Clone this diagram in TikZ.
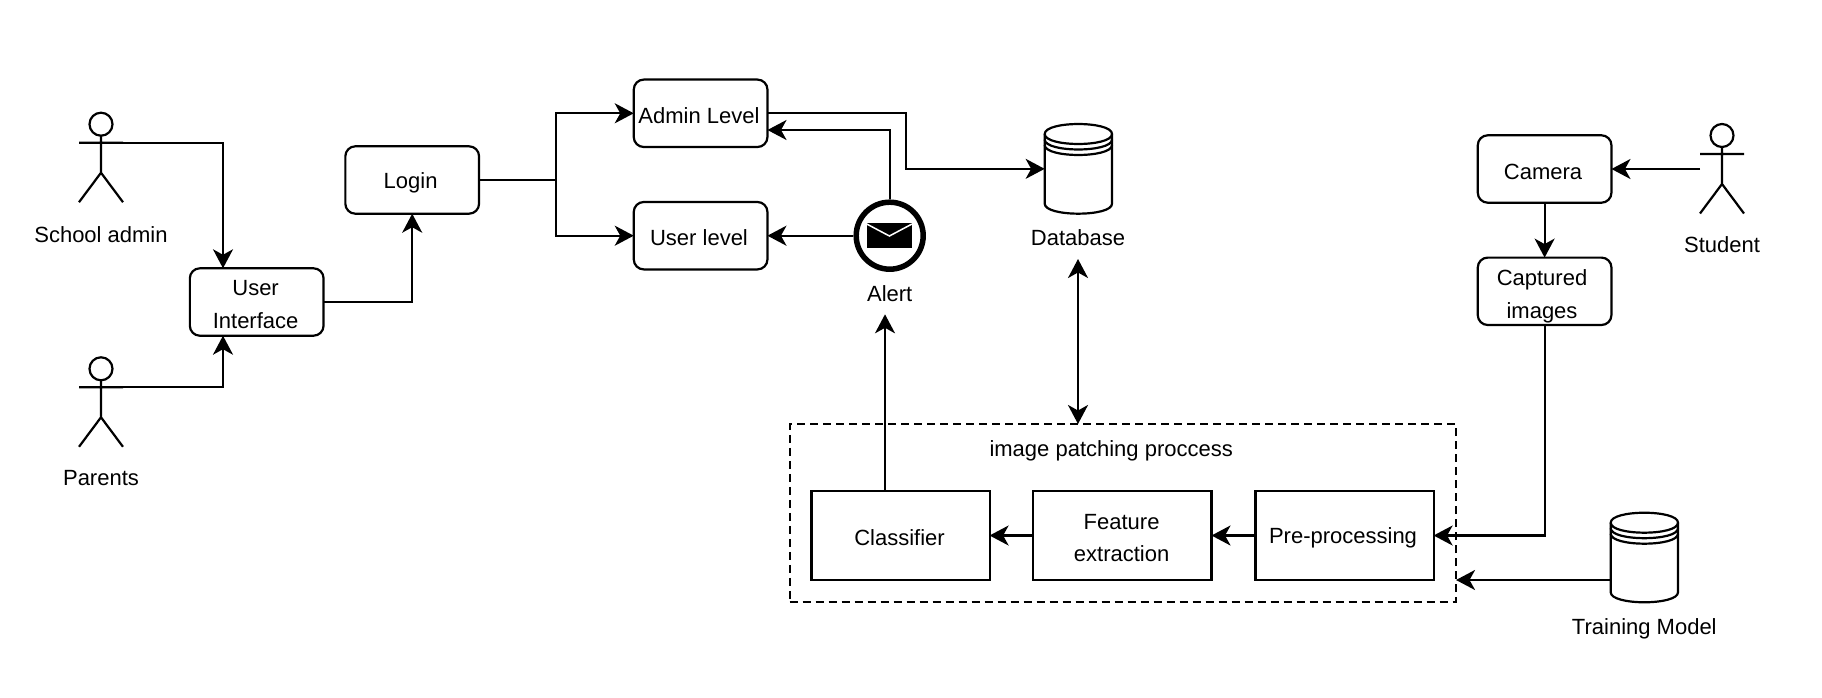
\documentclass[tikz,border=0pt]{standalone}
\usepackage{fontspec}
\setmainfont{Liberation Sans}
\usetikzlibrary{arrows.meta}
\newcommand{\stickman}[2]{% centre x, head top y
  \draw[shape line] (#1,#2+11.5) circle [radius=11.5];
  \draw[shape line] (#1,#2+23) -- (#1,#2+60)
    (#1-22,#2+30) -- (#1+22,#2+30)
    (#1-22,#2+89.5) -- (#1,#2+60) -- (#1+22,#2+89.5);
}
\newcommand{\barrel}[4]{% left, right, top, bottom
  \draw[shape line,fill=white] (#1,#3+10) .. controls (#1,#3-3.3) and (#2,#3-3.3) .. (#2,#3+10)
    -- (#2,#4-10) .. controls (#2,#4+3.3) and (#1,#4+3.3) .. (#1,#4-10) -- cycle;
  \draw[shape line] (#1,#3+10) .. controls (#1,#3+23.3) and (#2,#3+23.3) .. (#2,#3+10);
  \draw[shape line] (#1,#3+15.5) .. controls (#1,#3+28.8) and (#2,#3+28.8) .. (#2,#3+15.5);
  \draw[shape line] (#1,#3+21) .. controls (#1,#3+34.3) and (#2,#3+34.3) .. (#2,#3+21);
}
\tikzset{
  x=1pt,y=-1pt,
  shape line/.style={line width=2.2pt,black},
  txt/.style={font=\fontsize{22}{32.4}\selectfont,text=black,inner sep=0pt,align=center},
  roundbox/.style={draw,shape line,rounded corners=10pt,minimum width=133.7pt,minimum height=67.4pt,inner sep=0pt,outer sep=0pt,fill=white},
  squarebox/.style={draw,shape line,minimum width=178.2pt,minimum height=89.6pt,inner sep=0pt,outer sep=0pt,fill=white},
  slot/.style={inner sep=0pt,outer sep=0pt},
  conn/.style={shape line,-{Stealth[length=19pt,width=20pt,inset=5.5pt]}},
  link/.style={shape line},
  both/.style={shape line,{Stealth[length=19pt,width=20pt,inset=5.5pt]}-{Stealth[length=19pt,width=20pt,inset=5.5pt]}},
  groupbox/.style={draw,line width=2.2pt,black,dash pattern=on 8pt off 5pt,minimum width=666.1pt,minimum height=178pt,inner sep=0pt,outer sep=0pt},
}
\begin{document}
\begin{tikzpicture}
\useasboundingbox[fill=white] (0,0) rectangle (1822,698);

% actors
\stickman{101}{112.7}
\stickman{101}{357.3}
\stickman{1722}{124}
\node[txt] (adminLabel) at (101,234.5) {School admin};
\node[txt] (parentsLabel) at (101,478) {Parents};
\node[txt] (studentLabel) at (1722,244.3) {Student};
\coordinate (adminArm) at (123,142.7);
\coordinate (parentsArm) at (123,387.3);
\coordinate (studentArm) at (1700,169);

% rounded boxes
\node[roundbox] (ui) at (256.7,302) {};
\node[txt] (uiText) at (255.6,304.5) {User\\Interface};
\node[roundbox] (login) at (412.2,180) {};
\node[txt] (loginText) at (410.6,182.7) {Login};
\node[roundbox] (admin) at (700.6,113.3) {};
\node[txt] (adminText) at (699,115.3) {Admin Level};
\node[roundbox] (user) at (700.6,235.7) {};
\node[txt] (userText) at (699,237.3) {User level};
\node[roundbox] (camera) at (1544.6,169) {};
\node[txt] (cameraText) at (1543,171.8) {Camera};
\node[roundbox] (cap) at (1544.6,291.3) {};
\node[txt] (capText) at (1542,296.3) {Captured\\images\hspace{6pt}};

% alert
\node[circle,line width=5.5pt,draw=black,fill=white,minimum size=67pt,inner sep=0pt,outer sep=2.75pt] (alert) at (889.7,235.7) {};
\fill[black] (866.7,223) rectangle (912,248);
\draw[white,line width=1.5pt] (866.7,224) -- (889.4,236) -- (912,224);
\node[txt] (alertLabel) at (889.7,293.7) {Alert};

% databases
\node[slot,minimum width=67.3pt,minimum height=89.7pt] (db) at (1078.3,168.85) {};
\barrel{1044.7}{1112}{124}{213.7}
\node[txt] (dbLabel) at (1078,237.3) {Database};
\node[slot,minimum width=67.3pt,minimum height=89.6pt] (train) at (1644.3,557.5) {};
\barrel{1610.7}{1678}{512.7}{602.3}
\node[txt] (trainLabel) at (1644.3,629) {Training Model};

% process group
\node[groupbox] (group) at (1122.65,513) {};
\node[txt] (groupText) at (1111.2,451) {image patching proccess};
\node[squarebox] (cls) at (900.5,535.5) {};
\node[txt] (clsText) at (899.5,537.7) {Classifier};
\node[squarebox] (feat) at (1122.4,535.5) {};
\node[txt] (featText) at (1121.6,537.9) {Feature\\extraction};
\node[squarebox] (pre) at (1344.5,535.5) {};
\node[txt] (preText) at (1343,537.7) {Pre-processing};

% connectors
\coordinate (branch) at (556,180);
\coordinate (via) at (906,168.85);
\coordinate (adminIn) at (767.5,130);
\coordinate (alertIn) at (885,314.3);
\coordinate (dbIn) at (1078,259);
\coordinate (groupEast) at (1456,580);
\coordinate (trainOut) at (1610.7,580);
\coordinate (uiTopIn) at (223,268.3);
\coordinate (uiBottomIn) at (223,335.7);

\draw[conn] (adminArm) -| (uiTopIn);
\draw[conn] (parentsArm) -| (uiBottomIn);
\draw[conn] (ui.east) -| (login.south);
\draw[link] (login.east) -- (branch);
\draw[conn] (branch) |- (admin.west);
\draw[conn] (branch) |- (user.west);
\draw[conn] (admin.east) -| (via) -- (db.west);
\draw[conn] (alert.north) |- (adminIn);
\draw[conn] (alert.west) -- (user.east);
\draw[conn] (cls.north -| alertIn) -- (alertIn);
\draw[both] (dbIn) -- (group.north -| dbIn);
\draw[conn] (studentArm) -- (camera.east);
\draw[conn] (camera.south) -- (cap.north);
\draw[conn] (cap.south) |- (pre.east);
\draw[conn] (feat.west) -- (cls.east);
\draw[conn] (pre.west) -- (feat.east);
\draw[conn] (trainOut) -- (groupEast);
\end{tikzpicture}
\end{document}
